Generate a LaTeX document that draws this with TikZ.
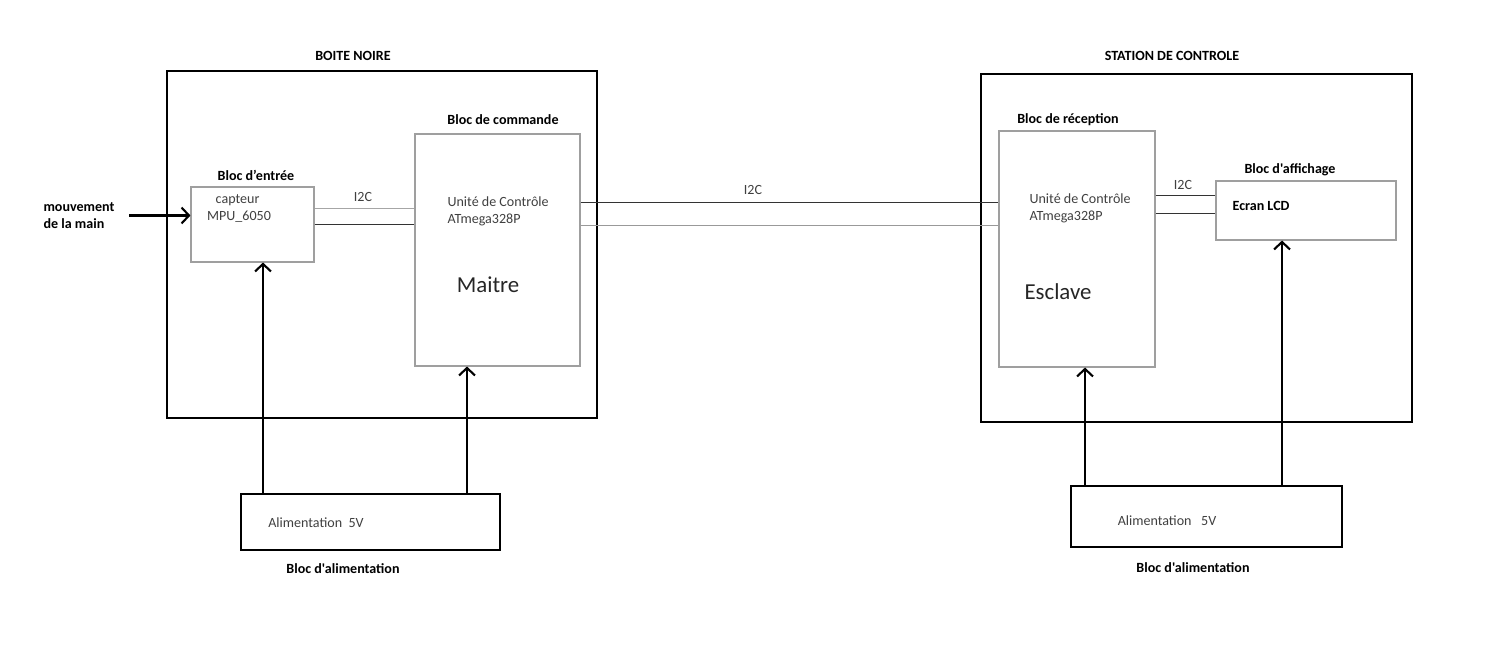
\documentclass[tikz,border=0pt]{standalone}
\usepackage{fontspec}
\setmainfont{Carlito}[Ligatures=TeXOff]
\usepackage{tikz}
\usetikzlibrary{positioning, calc, arrows.meta}
\usepackage{xcolor}

\begin{document}
\begin{tikzpicture}[thick,
	outer/.style={draw, line width=1.6pt, minimum width=#1},
	bloc/.style={draw=gray!75, line width=0.6pt, inner sep=0pt},
	alim/.style={draw, line width=1.5pt, inner sep=0pt},
	lbl/.style={font=\footnotesize\bfseries},
	txt/.style={font=\footnotesize, text=black!75, align=left},
	role/.style={font=\fontsize{13}{15}\selectfont, text=black!85},
	pwr/.style={-{Straight Barb[length=1.5mm, width=3.2mm]}, line width=1.2pt},
	bus/.style={line width=0.5pt, draw=black!80}]
	\useasboundingbox (0,0) rectangle (30,13.24);
	% Boxes
	\node[outer=8.6cm, minimum height=6.94cm] (noire) at (7.64,8.35) {};
	\node[outer=8.62cm, minimum height=6.96cm] (station) at (23.93,8.28) {};
	\node[lbl] at (7.06,12.12) {BOITE NOIRE};
	\node[lbl] at (23.44,12.12) {STATION DE CONTROLE};
	% Boite noire
	\node[bloc, minimum width=2.46cm, minimum height=1.5cm] (entree) at (5.05,8.75) {};
	\node[bloc, minimum width=3.3cm, minimum height=4.64cm] (cmd) at (9.95,8.24) {};
	\node[lbl] at (5.12,9.74) {Bloc d’entrée};
	\node[lbl] at (10.06,10.84) {Bloc de commande};
	\node[txt, align=center] at (4.78,9.07) {\hspace*{-0.2em}capteur\\MPU\_6050};
	\node[txt, anchor=west] at (8.82,9.01) {Unité de Contrôle\\ATmega328P};
	\node[role] at (9.76,7.54) {Maitre};
	% Station de controle
	\node[bloc, minimum width=3.12cm, minimum height=4.72cm] (recep) at (21.54,8.26) {};
	\node[bloc, minimum width=3.6cm, minimum height=1.18cm] (affich) at (26.12,9.03) {};
	\node[lbl] at (21.36,10.84) {Bloc de réception};
	\node[lbl] at (25.8,9.84) {Bloc d'affichage};
	\node[txt, anchor=west] at (20.46,9.07) {Unité de Contrôle\\ATmega328P};
	\node[lbl, anchor=west] at (24.52,9.12) {Ecran LCD};
	\node[role] at (21.16,7.4) {Esclave};
	% Alimentation
	\node[alim, minimum width=5.18cm, minimum height=1.12cm] (alimL) at (7.41,2.8) {};
	\node[alim, minimum width=5.42cm, minimum height=1.22cm] (alimR) at (24.13,2.91) {};
	\node[txt] at (6.32,2.78) {Alimentation~~5V};
	\node[txt] at (23.34,2.82) {Alimentation~~~5V};
	\node[lbl] at (6.86,1.86) {Bloc d'alimentation};
	\node[lbl] at (23.86,1.88) {Bloc d'alimentation};
	% Entree
	\node[lbl, anchor=west, align=left] (mvt) at (0.74,8.93) {mouvement\\de la main};
	\draw[pwr] (mvt.east -| 2.58,0) -- (mvt.east -| entree.west);
	% I2C
	\draw[bus, draw=gray!70] ([yshift=0.33cm]entree.east) -- ([yshift=0.33cm]entree.east -| cmd.west);
	\draw[bus] ([yshift=0.01cm]entree.east) -- ([yshift=0.01cm]entree.east -| cmd.west);
	\node[txt] at (7.26,9.3) {I2C};
	\draw[bus] ([yshift=0.96cm]cmd.east) -- ([yshift=0.96cm]cmd.east -| recep.west);
	\draw[bus, draw=gray!80] ([yshift=0.5cm]cmd.east) -- ([yshift=0.5cm]cmd.east -| recep.west);
	\node[txt] at (15.06,9.44) {I2C};
	\draw[bus] ([yshift=1.08cm]recep.east) -- ([yshift=1.08cm]recep.east -| affich.west);
	\draw[bus] ([yshift=0.72cm]recep.east) -- ([yshift=0.72cm]recep.east -| affich.west);
	\node[txt] at (23.66,9.54) {I2C};
	% Alimentation 5V
	\draw[pwr] ([xshift=-2.15cm]alimL.north) -- ([xshift=-2.15cm]alimL.north |- entree.south);
	\draw[pwr] ([xshift=1.93cm]alimL.north) -- ([xshift=1.93cm]alimL.north |- cmd.south);
	\draw[pwr] ([xshift=-2.43cm]alimR.north) -- ([xshift=-2.43cm]alimR.north |- recep.south);
	\draw[pwr] ([xshift=1.51cm]alimR.north) -- ([xshift=1.51cm]alimR.north |- affich.south);
\end{tikzpicture}
\end{document}
